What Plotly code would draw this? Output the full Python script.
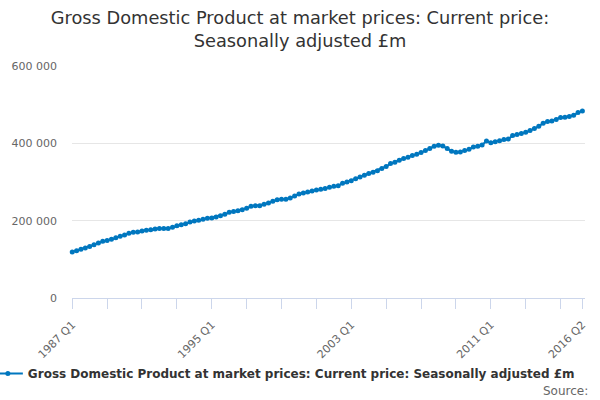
import plotly.graph_objs as go

# Quarterly labels 1987 Q1 .. 2016 Q2
quarters = ["{} Q{}".format(y, q) for y in range(1987, 2017) for q in range(1, 5)][:118]

# GDP at market prices, current price, SA (£m)
gdp = [
    118800, 122400, 125800, 129200, 133500, 137900, 142100, 146500,
    149000, 151700, 156000, 159400, 162800, 167200, 169800, 170600,
    173200, 175000, 176800, 178300, 180000, 180000, 180000, 183000,
    187000, 189600, 192200, 196500, 199000, 200800, 203400, 206000,
    206800, 209400, 213000, 216400, 221500, 224000, 225900, 228500,
    231900, 237000, 238900, 238900, 242200, 245600, 250000, 254000,
    255200, 255200, 258500, 263700, 268900, 271500, 274100, 276700,
    279300, 281000, 282900, 286200, 288800, 290600, 296600, 300000,
    303500, 308700, 312900, 317300, 321700, 325000, 329400, 335000,
    340000, 347600, 350900, 356100, 360500, 363900, 368300, 371600,
    376000, 381200, 386400, 392300, 394900, 393100, 386400, 379400,
    376800, 377600, 381200, 384600, 390500, 392300, 395700, 406000,
    401800, 404400, 407000, 409600, 411300, 420000, 422600, 425200,
    428600, 433000, 438100, 444100, 451900, 456300, 457800, 461500,
    466600, 467400, 469200, 472600, 479600, 483700,
]

series_name = "Gross Domestic Product at market prices: Current price: Seasonally adjusted £m"
title = "Gross Domestic Product at market prices: Current price:<br>Seasonally adjusted £m"

# ticks every 2 years, labels every 8 years + last quarter
tick_idx = list(range(0, len(quarters), 8)) + [len(quarters) - 1]
label_idx = [0, 32, 64, 96, len(quarters) - 1]
tick_vals = [quarters[i] for i in tick_idx]
tick_text = [quarters[i] if i in label_idx else "" for i in tick_idx]

blue = "#0077bf"

fig = go.Figure()
fig.add_trace(
    go.Scatter(x=quarters, y=gdp, mode="lines+markers", name=series_name,
               line=dict(color=blue, width=2), marker=dict(size=5, color=blue),
               cliponaxis=False, showlegend=True)
)

fig.update_layout(
    width=600, height=400,
    margin=dict(l=72, r=15, t=66, b=102, autoexpand=False),
    paper_bgcolor="white", plot_bgcolor="white",
    separators=". ",
    font=dict(family="DejaVu Sans", size=11, color="#666666"),
    title=dict(text=title, x=0.5, xanchor="center", yref="container", y=0.94, yanchor="middle",
               font=dict(family="DejaVu Sans", size=17.8, color="#333333")),
    showlegend=True,
    legend=dict(orientation="h", x=-0.164, xanchor="left", y=-0.325, yanchor="middle",
                font=dict(family="DejaVu Sans", size=12, color="#333333", weight="bold"),
                bgcolor="rgba(0,0,0,0)"),
)

fig.update_xaxes(
    type="category", range=[-0.05, 117.6], automargin=False,
    tickmode="array", tickvals=tick_vals, ticktext=tick_text, tickangle=-45,
    showline=True, linecolor="#ccd6eb", linewidth=1,
    ticks="outside", ticklen=10, tickcolor="#ccd6eb",
    ticklabelstandoff=5,
    showgrid=False, zeroline=False,
    tickfont=dict(size=11, color="#666666"),
)
fig.update_yaxes(
    range=[0, 600000], dtick=200000, tickformat=",d", automargin=False,
    showgrid=True, gridcolor="#e6e6e6", zeroline=False, showline=False,
    ticklabelstandoff=14,
    tickfont=dict(size=11, color="#666666"),
)

fig.add_annotation(xref="paper", yref="paper", x=1.01, y=-0.399, xanchor="right", yanchor="middle",
                   text="Source:", showarrow=False, font=dict(size=12, color="#666666"))

# page body has an 8px default margin; drop it so the figure fills the window
fig.write_html("out.html", config={"displayModeBar": False},
               post_script="document.body.style.margin='0';")
